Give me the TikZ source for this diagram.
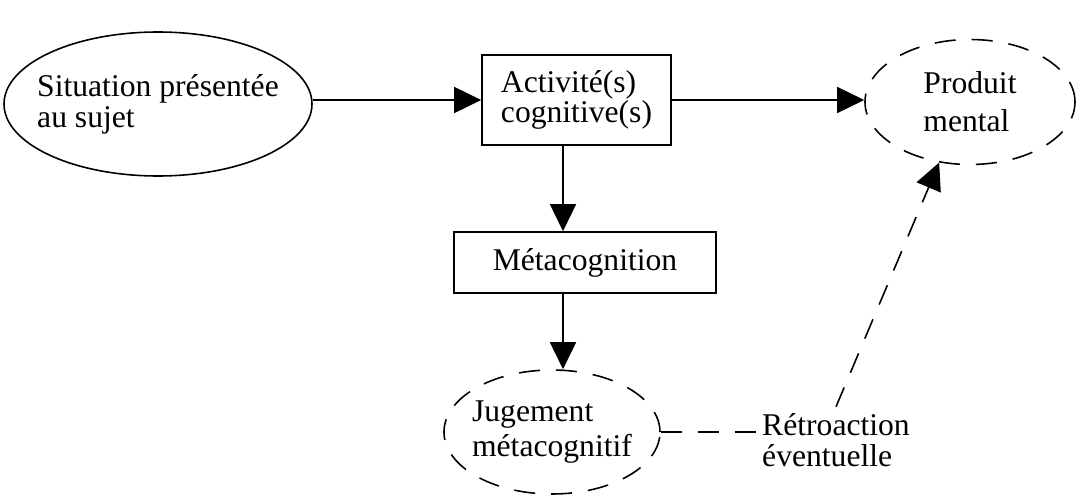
\documentclass[tikz,border=0pt]{standalone}
\usepackage{fontspec}
\setmainfont{Liberation Serif}
\usetikzlibrary{shapes,arrows.meta}

\begin{document}
\begin{tikzpicture}[node distance=3.25cm, font=\fontsize{18}{17.5}\selectfont, line width=0.9pt,
    >={Triangle[length=0.54cm, width=0.52cm]},
    boite/.style={draw, rectangle, align=left, inner sep=0pt},
    bulle/.style={draw, ellipse, align=left, inner sep=0pt},
    pointille/.style={dash pattern=on 0.42cm off 0.32cm}]

    \useasboundingbox (-11.53,2.0) rectangle (10.09,-7.9);

    \node (act) [boite, minimum width=3.78cm, minimum height=1.8cm] {Activité(s)\\cognitive(s)};
    \node (meta) [boite, below of=act, xshift=0.17cm, minimum width=5.24cm, minimum height=1.22cm] {Métacognition};
    \node (jug) [bulle, pointille, inner xsep=-0.12cm, below of=meta, xshift=-0.66cm, yshift=-0.14cm, minimum width=4.32cm, minimum height=2.48cm] {Jugement\\[2pt]métacognitif};
    \node (sit) [bulle, inner xsep=-0.26cm, left of=act, xshift=-5.12cm, yshift=-0.08cm, minimum width=6.16cm, minimum height=2.88cm] {Situation présentée\\au sujet};
    \node (prod) [bulle, pointille, right of=act, xshift=4.62cm, yshift=-0.04cm, minimum width=4.2cm, minimum height=2.5cm] {Produit\\[4pt]mental};
    \node (retro) [align=left, right of=jug, xshift=2.43cm, yshift=-0.16cm] {Rétroaction\\éventuelle};

    \draw[->] (sit.east |- act.west) -- (act.west);
    \draw[->] (act.east) -- (act.east -| prod.west);
    \draw[->] ([xshift=-0.27cm]act.south) -- ([xshift=-0.27cm]act.south |- meta.north);
    \draw[->] ([xshift=-0.44cm]meta.south) -- ([xshift=-0.44cm]meta.south |- jug.north);
    \draw[pointille] (jug.east) -- (jug.east -| retro.west);
    \draw[pointille, ->] (retro.north) -- (prod.243);

\end{tikzpicture}
\end{document}
